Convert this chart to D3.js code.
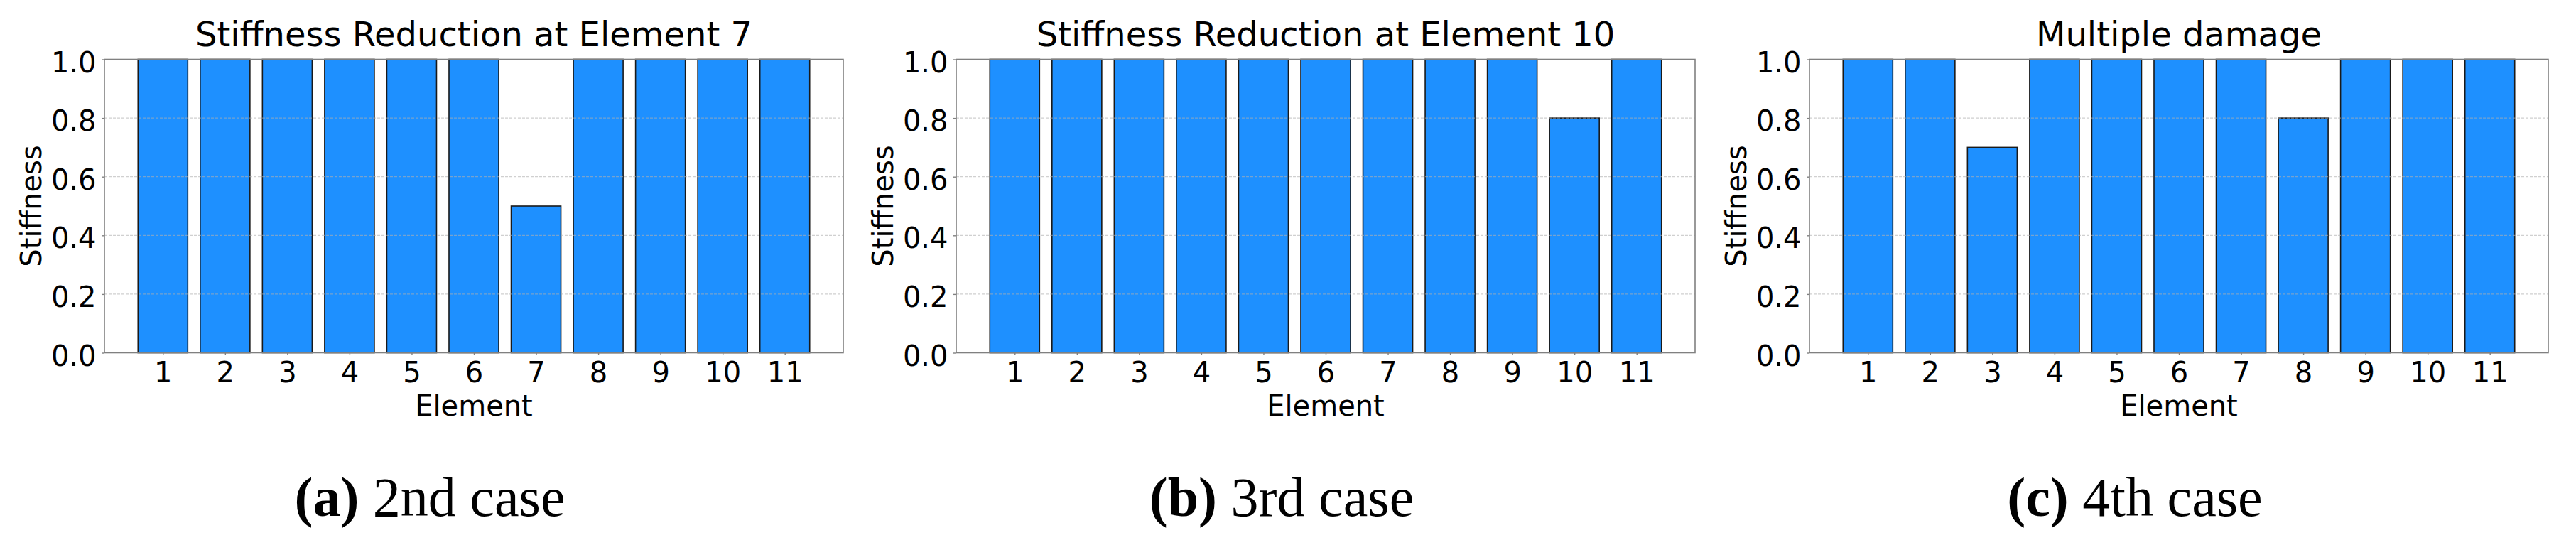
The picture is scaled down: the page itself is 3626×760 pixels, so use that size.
<!DOCTYPE html>
<meta charset="utf-8">
<script src="https://d3js.org/d3.v7.min.js"></script>
<style>
  body { margin: 0; background: #fff; }
  svg text { font-family: "DejaVu Sans", sans-serif; fill: #000; }
  .caption { font-family: "Liberation Serif", serif; }
</style>
<body>
<div id="my_dataviz"></div>
<script>

// data
var elements = [1, 2, 3, 4, 5, 6, 7, 8, 9, 10, 11];
var stiffness2nd = [1, 1, 1, 1, 1, 1, 0.5, 1, 1, 1, 1];
var stiffness3rd = [1, 1, 1, 1, 1, 1, 1, 1, 1, 0.8, 1];
var stiffness4th = [1, 1, 0.7, 1, 1, 1, 1, 0.8, 1, 1, 1];
var titles = ["Stiffness Reduction at Element 7", "Stiffness Reduction at Element 10", "Multiple damage"];
var captionTags = ["(a)", "(b)", "(c)"];
var captionTexts = ["2nd case", "3rd case", "4th case"];
var yTicks = [0, 0.2, 0.4, 0.6, 0.8, 1.0];
var series = [stiffness2nd, stiffness3rd, stiffness4th];

// layout
var W = 3626, H = 760;
var panelLeft = [147, 1346, 2547];
var panelWidth = 1040;
var plotTop = 83.5, plotBottom = 496.5;

var svg = d3.select("#my_dataviz")
  .append("svg")
    .attr("width", W)
    .attr("height", H);

var y = d3.scaleLinear()
  .domain([0, 1])
  .range([plotBottom, plotTop]);

series.forEach(function(values, i) {
  var left = panelLeft[i];
  var x = d3.scaleLinear()
    .domain([0.06, 11.94])
    .range([left, left + panelWidth]);
  var bw = x(0.8) - x(0);

  var g = svg.append("g");

  // bars
  g.selectAll("rect.bar")
    .data(values)
    .enter()
    .append("rect")
      .attr("class", "bar")
      .attr("x", function(d, j) { return x(elements[j] - 0.4); })
      .attr("y", function(d) { return y(d); })
      .attr("width", bw)
      .attr("height", function(d) { return y(0) - y(d); })
      .style("fill", "#1e90ff")
      .style("stroke", "#1a1a1a")
      .style("stroke-width", 1.6);

  // grid on top of bars
  g.selectAll("line.grid")
    .data(yTicks.slice(1, -1))
    .enter()
    .append("line")
      .attr("x1", left)
      .attr("x2", left + panelWidth)
      .attr("y1", function(d) { return y(d); })
      .attr("y2", function(d) { return y(d); })
      .style("stroke", "#b0b0b0")
      .style("stroke-opacity", 0.6)
      .style("stroke-width", 1.2)
      .style("stroke-dasharray", "4,2");

  // frame
  g.append("rect")
    .attr("x", left)
    .attr("y", plotTop)
    .attr("width", panelWidth)
    .attr("height", plotBottom - plotTop)
    .style("fill", "none")
    .style("stroke", "#808080")
    .style("stroke-width", 1.6);

  // Y axis
  var yAxis = g.append("g")
    .attr("transform", "translate(" + left + ",0)")
    .call(d3.axisLeft(y).tickValues(yTicks).tickFormat(d3.format(".1f")).tickSize(4).tickPadding(7.5));
  yAxis.select(".domain").remove();
  yAxis.selectAll(".tick line").style("stroke", "#808080").style("stroke-width", 1.4);
  yAxis.selectAll(".tick text")
    .attr("dy", "0.44em")
    .style("font-size", "40px")
    .style("font-family", "DejaVu Sans");

  // X axis
  var xAxis = g.append("g")
    .attr("transform", "translate(0," + plotBottom + ")")
    .call(d3.axisBottom(x).tickValues(elements).tickFormat(d3.format("d")).tickSize(3.5).tickPadding(9.5));
  xAxis.select(".domain").remove();
  xAxis.selectAll(".tick line").style("stroke", "#808080").style("stroke-width", 1.4);
  xAxis.selectAll(".tick text")
    .style("font-size", "40px")
    .style("font-family", "DejaVu Sans");

  // title and labels
  g.append("text")
    .attr("x", left + panelWidth / 2)
    .attr("y", 65)
    .attr("text-anchor", "middle")
    .style("font-size", "48px")
    .text(titles[i]);

  g.append("text")
    .attr("x", left + panelWidth / 2)
    .attr("y", 585)
    .attr("text-anchor", "middle")
    .style("font-size", "40px")
    .text("Element");

  g.append("text")
    .attr("transform", "translate(" + (left - 89) + "," + ((plotTop + plotBottom) / 2) + ")rotate(-90)")
    .attr("text-anchor", "middle")
    .style("font-size", "40px")
    .text("Stiffness");

  // caption
  var cap = g.append("text")
    .attr("class", "caption")
    .attr("x", left + 458)
    .attr("y", 726)
    .attr("text-anchor", "middle")
    .style("font-size", "78px");
  cap.append("tspan").style("font-weight", "bold").text(captionTags[i]);
  cap.append("tspan").text(" " + captionTexts[i]);
});

</script>
</body>
